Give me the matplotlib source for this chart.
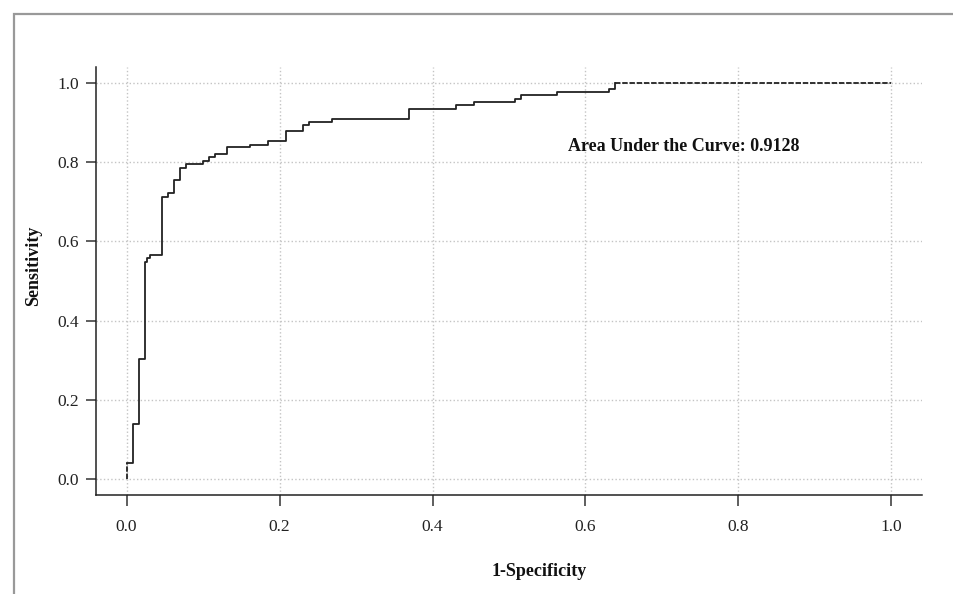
import numpy as np
import matplotlib
matplotlib.use("Agg")
import matplotlib.pyplot as plt
from matplotlib.patches import Rectangle

plt.rcParams["font.family"] = ["Liberation Serif", "DejaVu Serif"]

# ROC corner points (false positive rate, true positive rate)
fpr = [0.0, 0.0, 0.0083, 0.0157, 0.024, 0.027, 0.031, 0.0466, 0.054, 0.0623,
       0.0697, 0.078, 0.100, 0.1076, 0.1154, 0.1307, 0.162, 0.1847, 0.2078,
       0.231, 0.2388, 0.269, 0.3695, 0.431, 0.4536, 0.508, 0.5155, 0.5625,
       0.631, 0.638, 1.0]
tpr = [0.0, 0.04, 0.139, 0.303, 0.549, 0.557, 0.566, 0.712, 0.722, 0.754,
       0.786, 0.795, 0.803, 0.812, 0.821, 0.837, 0.844, 0.853, 0.878,
       0.894, 0.9015, 0.910, 0.935, 0.943, 0.951, 0.960, 0.969, 0.976,
       0.985, 1.0, 1.0]
auc = 0.9128

ticks = [0.0, 0.2, 0.4, 0.6, 0.8, 1.0]

fig = plt.figure(figsize=(9.54, 5.94), dpi=100)
ax = fig.add_axes([96 / 954, 1 - 495 / 594, (922 - 96) / 954, (495 - 67) / 594])

# outer gray frame
fig.patches.append(Rectangle((14 / 954, -0.2), 1.2, 1.2 - 14 / 594,
                             transform=fig.transFigure, fill=False,
                             edgecolor="#999999", linewidth=1.6))

fpr = np.array(fpr)
tpr = np.array(tpr)
ax.plot(fpr[1:-1], tpr[1:-1], drawstyle="steps-post", color="#222222", linewidth=1.3)
ax.plot(fpr[:2], tpr[:2], color="#222222", linewidth=1.3, linestyle=(0, (3, 1)))
ax.plot(fpr[-2:], tpr[-2:], color="#222222", linewidth=1.3, linestyle=(0, (3, 1)))

ax.set_xlim(-0.04, 1.04)
ax.set_ylim(-0.04, 1.04)
ax.set_xticks(ticks)
ax.set_yticks(ticks)
ax.set_xticklabels([f"{t:.1f}" for t in ticks])
ax.set_yticklabels([f"{t:.1f}" for t in ticks])
ax.grid(True, color="#c4c4c4", linestyle=":", linewidth=1.0)
ax.set_axisbelow(True)

for side in ["top", "right"]:
    ax.spines[side].set_visible(False)
for side in ["left", "bottom"]:
    ax.spines[side].set_color("#222222")
    ax.spines[side].set_linewidth(1.1)

ax.tick_params(axis="x", direction="out", length=8, width=1.1, color="#333333",
               labelsize=12.5, pad=9, labelcolor="#222222")
ax.tick_params(axis="y", direction="out", length=7.5, width=1.1, color="#333333",
               labelsize=12.5, pad=5, labelcolor="#222222")

ax.text(0.728, 0.8385, f"Area Under the Curve: {auc}", fontsize=13,
        fontweight="bold", ha="center", va="center", color="#111111")

fig.text(539 / 954, 1 - 572 / 594, "1-Specificity", fontsize=13,
         fontweight="bold", ha="center", va="center", color="#111111")
fig.text(34 / 954, 1 - 265.5 / 594, "Sensitivity", fontsize=13,
         fontweight="bold", ha="center", va="center", rotation=90, color="#111111")

plt.savefig("out.png", dpi=100)
